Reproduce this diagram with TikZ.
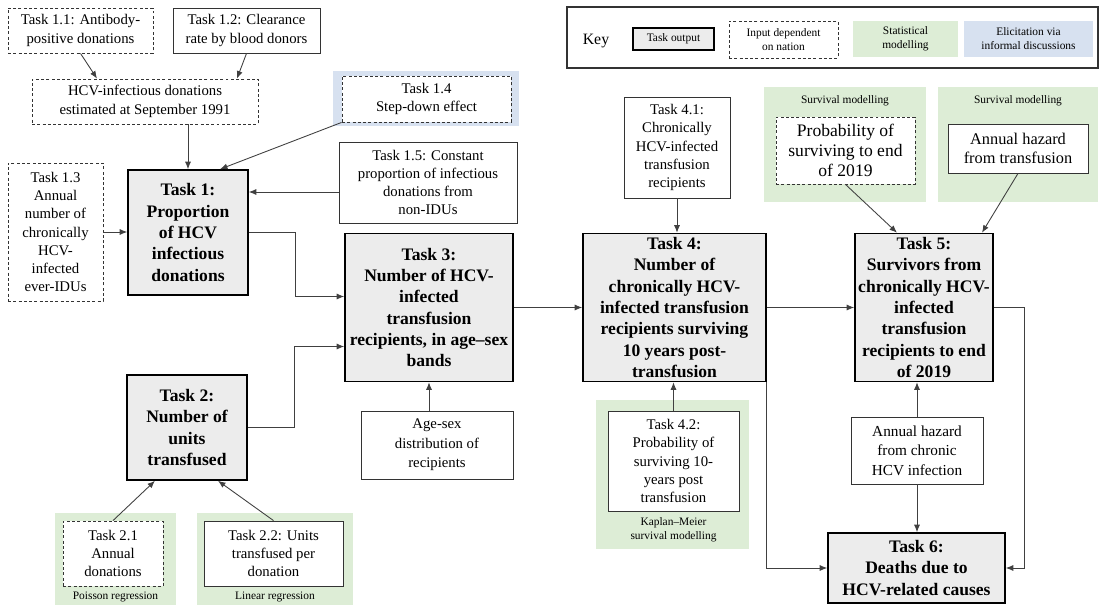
\documentclass[tikz,border=0pt]{standalone}
\usepackage{fontspec}
\setmainfont{Liberation Serif}
\usepackage{tikz}
\usetikzlibrary{arrows.meta,calc}
\definecolor{statcolor}{RGB}{221,237,214}
\definecolor{eliccolor}{RGB}{215,225,240}
\definecolor{taskcolor}{RGB}{236,236,236}
\newcommand{\bodyfnt}{\fontsize{8.4}{10.4}\selectfont}
\newcommand{\taskfnt}{\fontsize{10}{12.1}\selectfont\bfseries}
\newcommand{\smallfnt}{\fontsize{6.5}{8}\selectfont}

\begin{document}
\begin{tikzpicture}[
    x=0.02cm, y=-0.02cm,
    box/.style={rectangle, draw=black!80, line width=0.5pt, fill=white, align=center, inner sep=1pt, font=\bodyfnt},
    input/.style={box, dash pattern=on 1.7pt off 1.3pt},
    task/.style={box, fill=taskcolor, draw=black, line width=0.9pt, font=\taskfnt},
    statbg/.style={rectangle, fill=statcolor, draw=none, inner sep=0pt},
    elicbg/.style={rectangle, fill=eliccolor, draw=none, inner sep=0pt},
    note/.style={align=center, inner sep=0pt, font=\smallfnt},
    arrow/.style={-{Latex[length=1.5mm,width=1.2mm]}, draw=black!75, line width=0.5pt}
]
    \useasboundingbox (0,0) rectangle (1100,605);

    % Key
    \node[box, line width=0.7pt, minimum width=10.62cm, minimum height=1.22cm] (key) at (832.5,37.5) {};
    \node[font=\fontsize{9}{10.5}\selectfont] (keylabel) at (596,41) {Key};
    \node[task, font=\smallfnt, line width=0.7pt, minimum width=1.62cm, minimum height=0.44cm] (keytask) at (673.5,39) {Task output};
    \node[input, font=\smallfnt, minimum width=2.18cm, minimum height=0.74cm] (keyinput) at (783.5,39.5) {Input dependent\\on nation};
    \node[statbg, font=\smallfnt, align=center, minimum width=2.1cm, minimum height=0.72cm] (keystat) at (905.5,39) {Statistical\\modelling};
    \node[elicbg, font=\smallfnt, align=center, minimum width=2.58cm, minimum height=0.72cm] (keyelic) at (1028.5,39) {Elicitation via\\informal discussions};

    % Backgrounds
    \node[elicbg, minimum width=3.72cm, minimum height=1.1cm] (bg14) at (426,98.5) {};
    \node[statbg, minimum width=2.42cm, minimum height=1.84cm] (bg21) at (115.5,559) {};
    \node[statbg, minimum width=3.12cm, minimum height=1.84cm] (bg22) at (275,559) {};
    \node[statbg, minimum width=3.06cm, minimum height=2.98cm] (bg42) at (672.5,474.5) {};
    \node[statbg, minimum width=3.24cm, minimum height=2.3cm] (bgsurv1) at (845,144.5) {};
    \node[statbg, minimum width=3.2cm, minimum height=2.3cm] (bgsurv2) at (1018,144.5) {};
    \node[note] (poisson) at (115.5,597) {Poisson regression};
    \node[note] (linear) at (275,597) {Linear regression};
    \node[note] (kaplan) at (673.5,530) {Kaplan--Meier\\survival modelling};
    \node[note] (survlab1) at (845,101) {Survival modelling};
    \node[note] (survlab2) at (1018,101) {Survival modelling};

    % Task 1 inputs
    \node[input, minimum width=2.9cm, minimum height=0.9cm] (task11) at (80.5,30.5) {Task 1.1: Antibody-\\positive donations};
    \node[box, minimum width=2.94cm, minimum height=0.9cm] (task12) at (246.5,30.5) {Task 1.2: Clearance\\rate by blood donors};
    \node[input, minimum width=4.52cm, minimum height=0.9cm] (infdon) at (145,101.5) {HCV-infectious donations\\estimated at September 1991};
    \node[input, minimum width=1.9cm, minimum height=2.76cm] (task13) at (55.5,232) {Task 1.3\\Annual\\number of\\chronically\\HCV-\\infected\\ever-IDUs};
    \node[input, minimum width=3.38cm, minimum height=0.92cm] (task14) at (426.5,99) {Task 1.4\\Step-down effect};
    \node[box, minimum width=3.56cm, minimum height=1.62cm] (task15) at (428,182.5) {Task 1.5: Constant\\proportion of infectious\\donations from\\non-IDUs};

    % Tasks
    \node[task, minimum width=2.4cm, minimum height=2.5cm] (task1) at (188,232.5) {Task 1:\\Proportion\\of HCV\\infectious\\donations};
    \node[task, minimum width=2.4cm, minimum height=2.1cm] (task2) at (187,427.5) {Task 2:\\Number of\\units\\transfused};
    \node[task, minimum width=3.36cm, minimum height=2.96cm] (task3) at (429,307.5) {Task 3:\\Number of HCV-\\infected\\transfusion\\recipients, in age--sex\\bands};
    \node[task, minimum width=3.66cm, minimum height=2.96cm] (task4) at (674.5,307.5) {Task 4:\\Number of\\chronically HCV-\\infected transfusion\\recipients surviving\\10 years post-\\transfusion};
    \node[task, minimum width=2.76cm, minimum height=2.96cm] (task5) at (924,307.5) {Task 5:\\Survivors from\\chronically HCV-\\infected\\transfusion\\recipients to end\\of 2019};
    \node[task, minimum width=3.54cm, minimum height=1.4cm] (task6) at (916.5,568) {Task 6:\\Deaths due to\\HCV-related causes};

    % Other inputs
    \node[input, minimum width=2.0cm, minimum height=1.3cm] (task21) at (113,553.5) {Task 2.1\\Annual\\donations};
    \node[box, minimum width=2.78cm, minimum height=1.3cm] (task22) at (273.5,553.5) {Task 2.2: Units\\transfused per\\donation};
    \node[box, minimum width=3.04cm, minimum height=1.36cm, font=\fontsize{8.4}{11.2}\selectfont] (agesex) at (437,445) {Age-sex\\distribution of\\recipients};
    \node[box, minimum width=2.12cm, minimum height=2.02cm] (task41) at (677,147.5) {Task 4.1:\\Chronically\\HCV-infected\\transfusion\\recipients};
    \node[box, minimum width=2.62cm, minimum height=2.0cm] (task42) at (673.5,461) {Task 4.2:\\Probability of\\surviving 10-\\years post\\transfusion};
    \node[input, font=\fontsize{10}{11.4}\selectfont, minimum width=2.78cm, minimum height=1.34cm] (probsurv) at (845.5,150.5) {Probability of\\surviving to end\\of 2019};
    \node[box, font=\fontsize{9.3}{10.6}\selectfont, minimum width=2.8cm, minimum height=0.98cm] (hazardtx) at (1018,148.5) {Annual hazard\\from transfusion};
    \node[box, font=\fontsize{8.7}{11}\selectfont, minimum width=2.64cm, minimum height=1.34cm] (hazardchr) at (917,450.5) {Annual hazard\\from chronic\\HCV infection};

    % Arrows
    \draw[arrow] (task11.south) -- ($(infdon.north)+(-48,0)$);
    \draw[arrow] (task12.south) -- ($(infdon.north)+(92,0)$);
    \draw[arrow] (infdon.south -| task1.north) -- (task1.north);
    \draw[arrow] (task14.south west) -- ($(task1.north)+(32,0)$);
    \draw[arrow] ($(task15.west)+(0,9.5)$) coordinate (a15) -- (a15 -| task1.east);
    \draw[arrow] (task13.east) -- (task13.east -| task1.west);
    \draw[arrow] (task1.east) -- ++(47,0) |- ($(task3.west)+(0,-11)$);
    \draw[arrow] (task2.east) -- ++(47,0) |- ($(task3.west)+(0,39)$);
    \draw[arrow] (agesex.north -| task3.south) -- (task3.south);
    \draw[arrow] (task21.north) -- ($(task2.south)+(-32,0)$);
    \draw[arrow] (task22.north) -- ($(task2.south)+(31,0)$);
    \draw[arrow] (task3.east) -- (task4.west);
    \draw[arrow] (task41.south) -- (task41.south |- task4.north);
    \draw[arrow] (task42.north) -- (task42.north |- task4.south);
    \draw[arrow] (task4.east) -- (task5.west);
    \draw[arrow] (task4.south east) |- (task6.west);
    \draw[arrow] (task5.east) -- ++(31,0) |- (task6.east);
    \draw[arrow] (hazardchr.north) -- (hazardchr.north |- task5.south);
    \draw[arrow] (hazardchr.south) -- (hazardchr.south |- task6.north);
    \draw[arrow] (probsurv.south) -- ($(task5.north)+(-27,0)$);
    \draw[arrow] (hazardtx.south) -- ($(task5.north)+(58,0)$);
\end{tikzpicture}
\end{document}
